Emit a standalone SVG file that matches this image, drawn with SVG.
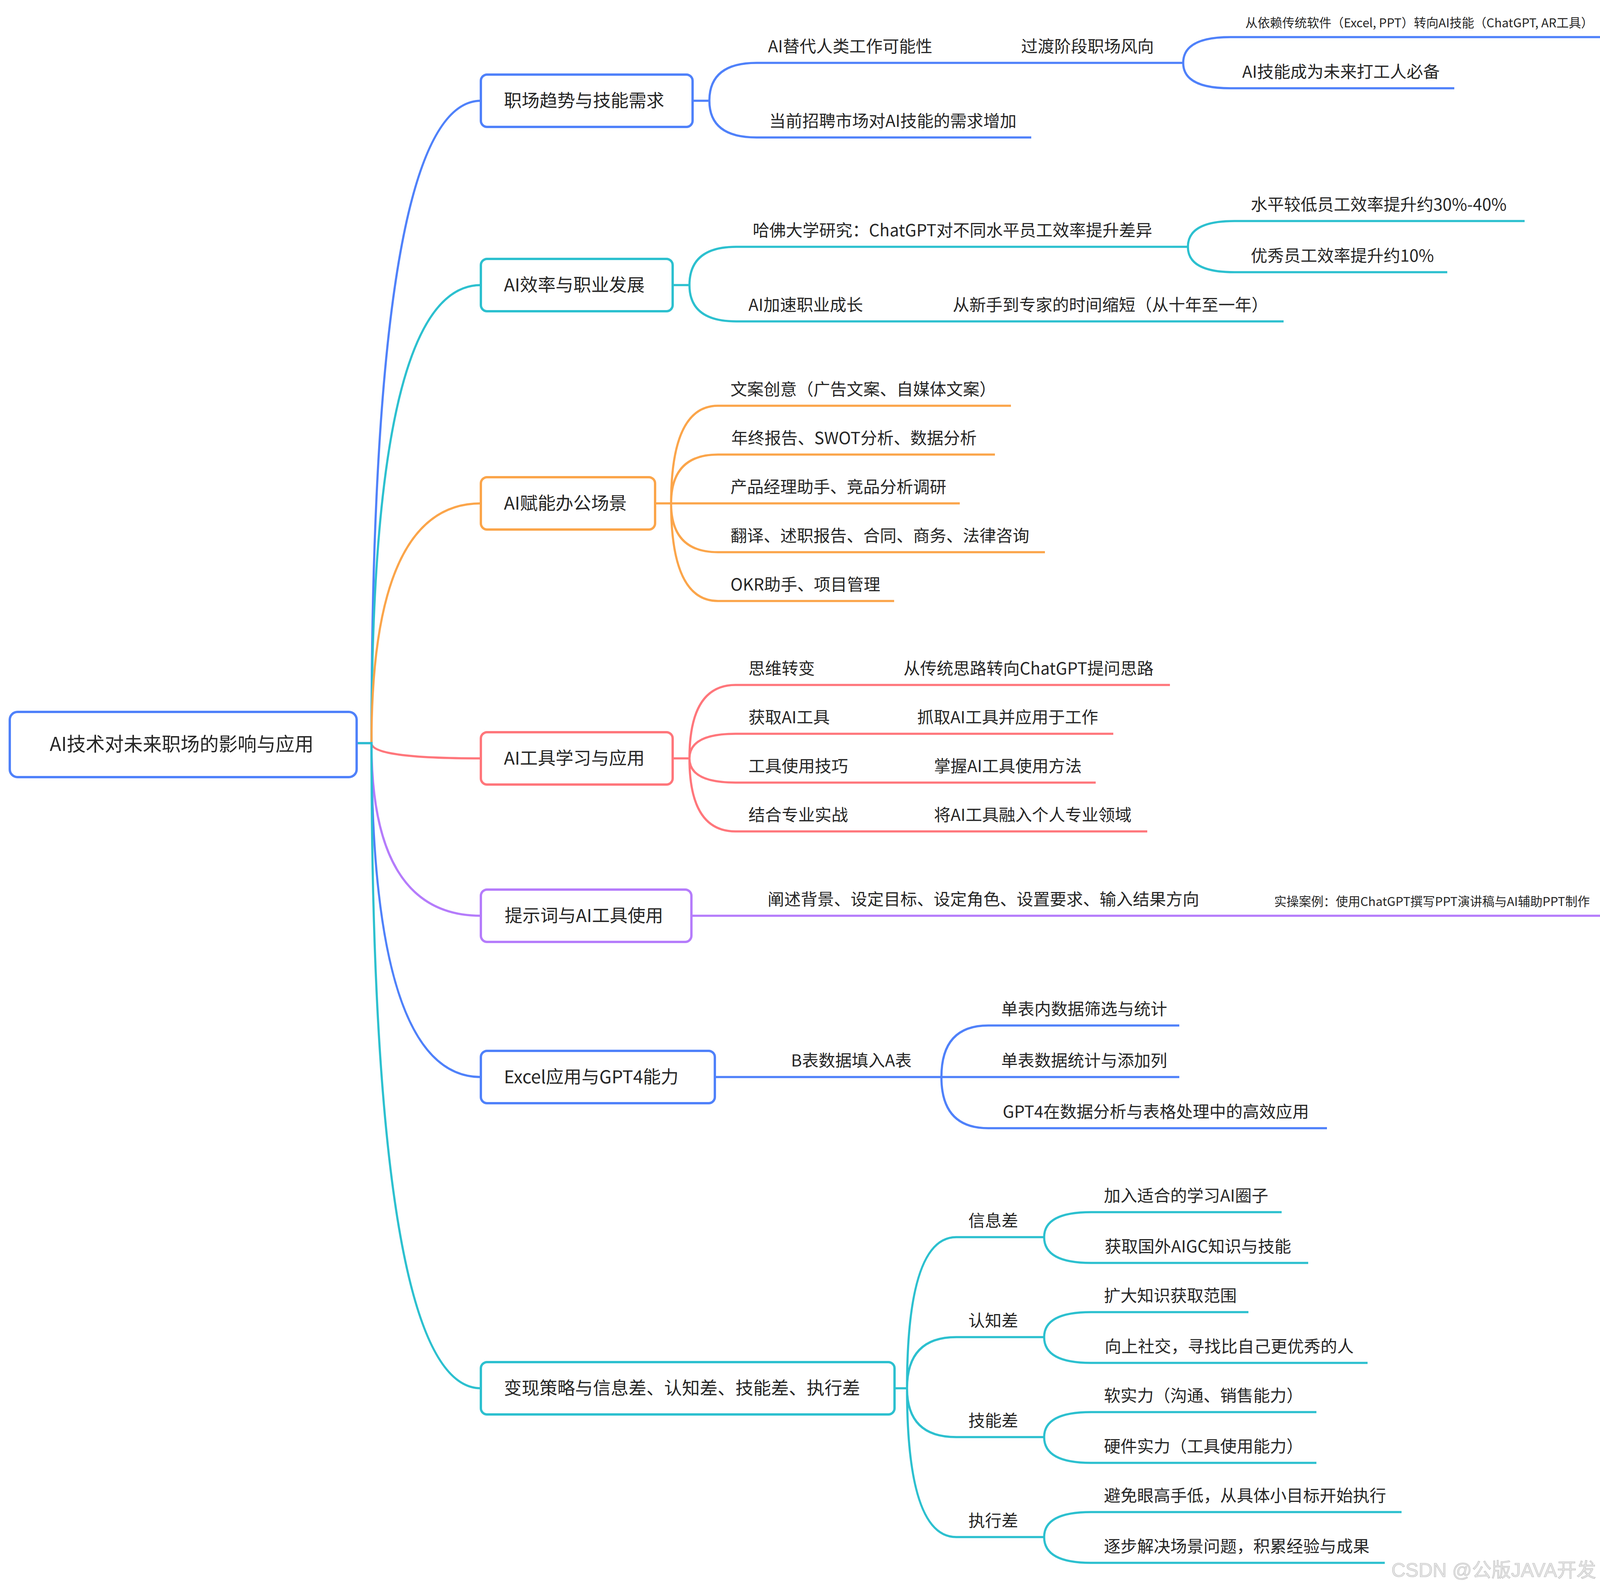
<svg xmlns="http://www.w3.org/2000/svg" width="4507" height="4069" viewBox="0 0 4507 4069">
<style>
.t{font-family:"Noto Sans CJK SC","Noto Sans",sans-serif;fill:#262626}
.lf{font-size:42.5px}
.sm{font-size:31.5px}
.l1{font-size:45.6px}
.rt{font-size:48.6px}
.box{fill:#fff;stroke-width:6}
.ln{fill:none;stroke-width:5.5}
.b{stroke:#4F81FA}
.c{stroke:#2CC0CF}
.o{stroke:#FBA54A}
.r{stroke:#FF767B}
.p{stroke:#B57CFB}
.wm{font-family:"Liberation Sans","Noto Sans CJK SC",sans-serif;font-size:50px;fill:#e6e6e6;stroke:#c4c4c4;stroke-width:1.2}
</style>
<rect width="4507" height="4069" fill="#fff"/>
<g id="connectors">
<path class="ln b" d="M914 1903 L951 1903 Q951 258 1231 258"/>
<path class="ln c" d="M914 1903 L951 1903 Q951 730 1231 730"/>
<path class="ln o" d="M914 1903 L951 1903 Q951 1289 1231 1289"/>
<path class="ln r" d="M914 1903 L951 1903 Q951 1942 1231 1942"/>
<path class="ln p" d="M914 1903 L951 1903 Q951 2345 1231 2345"/>
<path class="ln b" d="M914 1903 L951 1903 Q951 2758 1231 2758"/>
<path class="ln c" d="M914 1903 L951 1903 Q951 3555 1231 3555"/>
<path class="ln b" d="M1773 258 L1816 258 Q1816 161 1937 161 M1816 258 Q1816 352 1937 352"/>
<path class="ln b" d="M2421 161 L2582 161"/>
<path class="ln b" d="M2988 161 L3029 161 Q3029 95 3150 95 M3029 161 Q3029 226 3150 226"/>
<path class="ln c" d="M1722 730 L1765 730 Q1765 632 1885 632 M1765 730 Q1765 823 1885 823"/>
<path class="ln c" d="M3003 632 L3041 632 Q3041 566 3160 566 M3041 632 Q3041 697 3160 697"/>
<path class="ln c" d="M2243 823 L2407 823"/>
<path class="ln o" d="M1677 1289 L1718 1289 Q1718 1039 1838 1039 M1718 1289 Q1718 1164 1838 1164 M1718 1289 L1838 1289 M1718 1289 Q1718 1414 1838 1414 M1718 1289 Q1718 1539 1838 1539"/>
<path class="ln r" d="M1722 1942 L1765 1942 Q1765 1754 1883 1754 M1765 1942 Q1765 1879 1883 1879 M1765 1942 Q1765 2004 1883 2004 M1765 1942 Q1765 2129 1883 2129"/>
<path class="ln r" d="M2120 1754 L2281 1754 M2155 1879 L2316 1879 M2205 2004 L2358 2004 M2205 2129 L2358 2129"/>
<path class="ln p" d="M1770 2345 L1933 2345 M3104 2345 L3230 2345"/>
<path class="ln b" d="M1830 2758 L1993 2758"/>
<path class="ln b" d="M2372 2758 L2410 2758 Q2410 2626 2530 2626 M2410 2758 L2530 2758 M2410 2758 Q2410 2889 2530 2889"/>
<path class="ln c" d="M2290 3555 L2322 3555 Q2322 3168 2448 3168 M2322 3555 Q2322 3424 2448 3424 M2322 3555 Q2322 3680 2448 3680 M2322 3555 Q2322 3936 2448 3936"/>
<path class="ln c" d="M2636 3168 L2673 3168 Q2673 3104 2793 3104 M2673 3168 Q2673 3234 2793 3234"/>
<path class="ln c" d="M2636 3424 L2673 3424 Q2673 3360 2793 3360 M2673 3424 Q2673 3490 2793 3490"/>
<path class="ln c" d="M2636 3680 L2673 3680 Q2673 3616 2793 3616 M2673 3680 Q2673 3746 2793 3746"/>
<path class="ln c" d="M2636 3936 L2673 3936 Q2673 3872 2793 3872 M2673 3936 Q2673 4002 2793 4002"/>
</g>
<g id="root">
<rect class="box b" x="25" y="1823" width="888" height="167" rx="20"/>
<text class="t rt" x="465" y="1923" text-anchor="middle">AI技术对未来职场的影响与应用</text>
</g>
<g id="n1">
<rect class="box b" x="1231" y="191" width="542" height="134" rx="16"/>
<text class="t l1" x="1290" y="274">职场趋势与技能需求</text>
</g>
<g id="n1a"><path class="ln b" d="M1937 161 L2421 161"/><text class="t lf" x="1966" y="134">AI替代人类工作可能性</text></g>
<g id="n1a1"><path class="ln b" d="M2582 161 L2988 161"/><text class="t lf" x="2614" y="134">过渡阶段职场风向</text></g>
<g id="n1a1a"><path class="ln b" d="M3150 95 L4485 95"/><text class="t sm" x="3188" y="70">从依赖传统软件（Excel, PPT）转向AI技能（ChatGPT, AR工具）</text></g>
<g id="n1a1b"><path class="ln b" d="M3150 226 L3723 226"/><text class="t lf" x="3180" y="199">AI技能成为未来打工人必备</text></g>
<g id="n1b"><path class="ln b" d="M1937 352 L2640 352"/><text class="t lf" x="1969" y="325">当前招聘市场对AI技能的需求增加</text></g>
<g id="n2">
<rect class="box c" x="1231" y="663" width="491" height="134" rx="16"/>
<text class="t l1" x="1290" y="746">AI效率与职业发展</text>
</g>
<g id="n2a"><path class="ln c" d="M1885 632 L3003 632"/><text class="t lf" x="1927" y="605">哈佛大学研究：ChatGPT对不同水平员工效率提升差异</text></g>
<g id="n2a1"><path class="ln c" d="M3160 566 L3903 566"/><text class="t lf" x="3202" y="539">水平较低员工效率提升约30%-40%</text></g>
<g id="n2a2"><path class="ln c" d="M3160 697 L3705 697"/><text class="t lf" x="3202" y="670">优秀员工效率提升约10%</text></g>
<g id="n2b"><path class="ln c" d="M1885 823 L2243 823"/><text class="t lf" x="1916" y="796">AI加速职业成长</text></g>
<g id="n2b1"><path class="ln c" d="M2407 823 L3286 823"/><text class="t lf" x="2439" y="796">从新手到专家的时间缩短（从十年至一年）</text></g>
<g id="n3">
<rect class="box o" x="1231" y="1222" width="446" height="134" rx="16"/>
<text class="t l1" x="1290" y="1305">AI赋能办公场景</text>
</g>
<g id="n3a"><path class="ln o" d="M1838 1039 L2588 1039"/><text class="t lf" x="1870" y="1012">文案创意（广告文案、自媒体文案）</text></g>
<g id="n3b"><path class="ln o" d="M1838 1164 L2547 1164"/><text class="t lf" x="1872" y="1137">年终报告、SWOT分析、数据分析</text></g>
<g id="n3c"><path class="ln o" d="M1838 1289 L2457 1289"/><text class="t lf" x="1870" y="1262">产品经理助手、竞品分析调研</text></g>
<g id="n3d"><path class="ln o" d="M1838 1414 L2675 1414"/><text class="t lf" x="1870" y="1387">翻译、述职报告、合同、商务、法律咨询</text></g>
<g id="n3e"><path class="ln o" d="M1838 1539 L2289 1539"/><text class="t lf" x="1870" y="1512">OKR助手、项目管理</text></g>
<g id="n4">
<rect class="box r" x="1231" y="1875" width="491" height="134" rx="16"/>
<text class="t l1" x="1290" y="1958">AI工具学习与应用</text>
</g>
<g id="n4a"><path class="ln r" d="M1883 1754 L2120 1754"/><text class="t lf" x="1916" y="1727">思维转变</text></g>
<g id="n4a1"><path class="ln r" d="M2281 1754 L2995 1754"/><text class="t lf" x="2313" y="1727">从传统思路转向ChatGPT提问思路</text></g>
<g id="n4b"><path class="ln r" d="M1883 1879 L2155 1879"/><text class="t lf" x="1916" y="1852">获取AI工具</text></g>
<g id="n4b1"><path class="ln r" d="M2316 1879 L2850 1879"/><text class="t lf" x="2348" y="1852">抓取AI工具并应用于工作</text></g>
<g id="n4c"><path class="ln r" d="M1883 2004 L2205 2004"/><text class="t lf" x="1916" y="1977">工具使用技巧</text></g>
<g id="n4c1"><path class="ln r" d="M2358 2004 L2805 2004"/><text class="t lf" x="2391" y="1977">掌握AI工具使用方法</text></g>
<g id="n4d"><path class="ln r" d="M1883 2129 L2205 2129"/><text class="t lf" x="1916" y="2102">结合专业实战</text></g>
<g id="n4d1"><path class="ln r" d="M2358 2129 L2937 2129"/><text class="t lf" x="2391" y="2102">将AI工具融入个人专业领域</text></g>
<g id="n5">
<rect class="box p" x="1231" y="2278" width="539" height="134" rx="16"/>
<text class="t l1" x="1292" y="2361">提示词与AI工具使用</text>
</g>
<g id="n5a"><path class="ln p" d="M1933 2345 L3104 2345"/><text class="t lf" x="1965" y="2318">阐述背景、设定目标、设定角色、设置要求、输入结果方向</text></g>
<g id="n5a1"><path class="ln p" d="M3230 2345 L4462 2345"/><text class="t sm" x="3262" y="2320">实操案例：使用ChatGPT撰写PPT演讲稿与AI辅助PPT制作</text></g>
<g id="n6">
<rect class="box b" x="1231" y="2691" width="599" height="134" rx="16"/>
<text class="t l1" x="1290" y="2774">Excel应用与GPT4能力</text>
</g>
<g id="n6a"><path class="ln b" d="M1993 2758 L2372 2758"/><text class="t lf" x="2025" y="2731">B表数据填入A表</text></g>
<g id="n6a1"><path class="ln b" d="M2530 2626 L3019 2626"/><text class="t lf" x="2563" y="2599">单表内数据筛选与统计</text></g>
<g id="n6a2"><path class="ln b" d="M2530 2758 L3019 2758"/><text class="t lf" x="2563" y="2731">单表数据统计与添加列</text></g>
<g id="n6a3"><path class="ln b" d="M2530 2889 L3397 2889"/><text class="t lf" x="2567" y="2862">GPT4在数据分析与表格处理中的高效应用</text></g>
<g id="n7">
<rect class="box c" x="1231" y="3488" width="1059" height="134" rx="16"/>
<text class="t l1" x="1290" y="3571">变现策略与信息差、认知差、技能差、执行差</text>
</g>
<g id="n7a"><path class="ln c" d="M2448 3168 L2636 3168"/><text class="t lf" x="2479" y="3141">信息差</text></g>
<g id="n7a1"><path class="ln c" d="M2793 3104 L3281 3104"/><text class="t lf" x="2826" y="3077">加入适合的学习AI圈子</text></g>
<g id="n7a2"><path class="ln c" d="M2793 3234 L3349 3234"/><text class="t lf" x="2828" y="3207">获取国外AIGC知识与技能</text></g>
<g id="n7b"><path class="ln c" d="M2448 3424 L2636 3424"/><text class="t lf" x="2479" y="3397">认知差</text></g>
<g id="n7b1"><path class="ln c" d="M2793 3360 L3196 3360"/><text class="t lf" x="2826" y="3333">扩大知识获取范围</text></g>
<g id="n7b2"><path class="ln c" d="M2793 3490 L3501 3490"/><text class="t lf" x="2828" y="3463">向上社交，寻找比自己更优秀的人</text></g>
<g id="n7c"><path class="ln c" d="M2448 3680 L2636 3680"/><text class="t lf" x="2479" y="3653">技能差</text></g>
<g id="n7c1"><path class="ln c" d="M2793 3616 L3370 3616"/><text class="t lf" x="2826" y="3589">软实力（沟通、销售能力）</text></g>
<g id="n7c2"><path class="ln c" d="M2793 3746 L3370 3746"/><text class="t lf" x="2826" y="3719">硬件实力（工具使用能力）</text></g>
<g id="n7d"><path class="ln c" d="M2448 3936 L2636 3936"/><text class="t lf" x="2479" y="3909">执行差</text></g>
<g id="n7d1"><path class="ln c" d="M2793 3872 L3588 3872"/><text class="t lf" x="2826" y="3845">避免眼高手低，从具体小目标开始执行</text></g>
<g id="n7d2"><path class="ln c" d="M2793 4002 L3545 4002"/><text class="t lf" x="2826" y="3975">逐步解决场景问题，积累经验与成果</text></g>
<text class="wm" x="3562" y="4038">CSDN @公版JAVA开发</text>
</svg>
